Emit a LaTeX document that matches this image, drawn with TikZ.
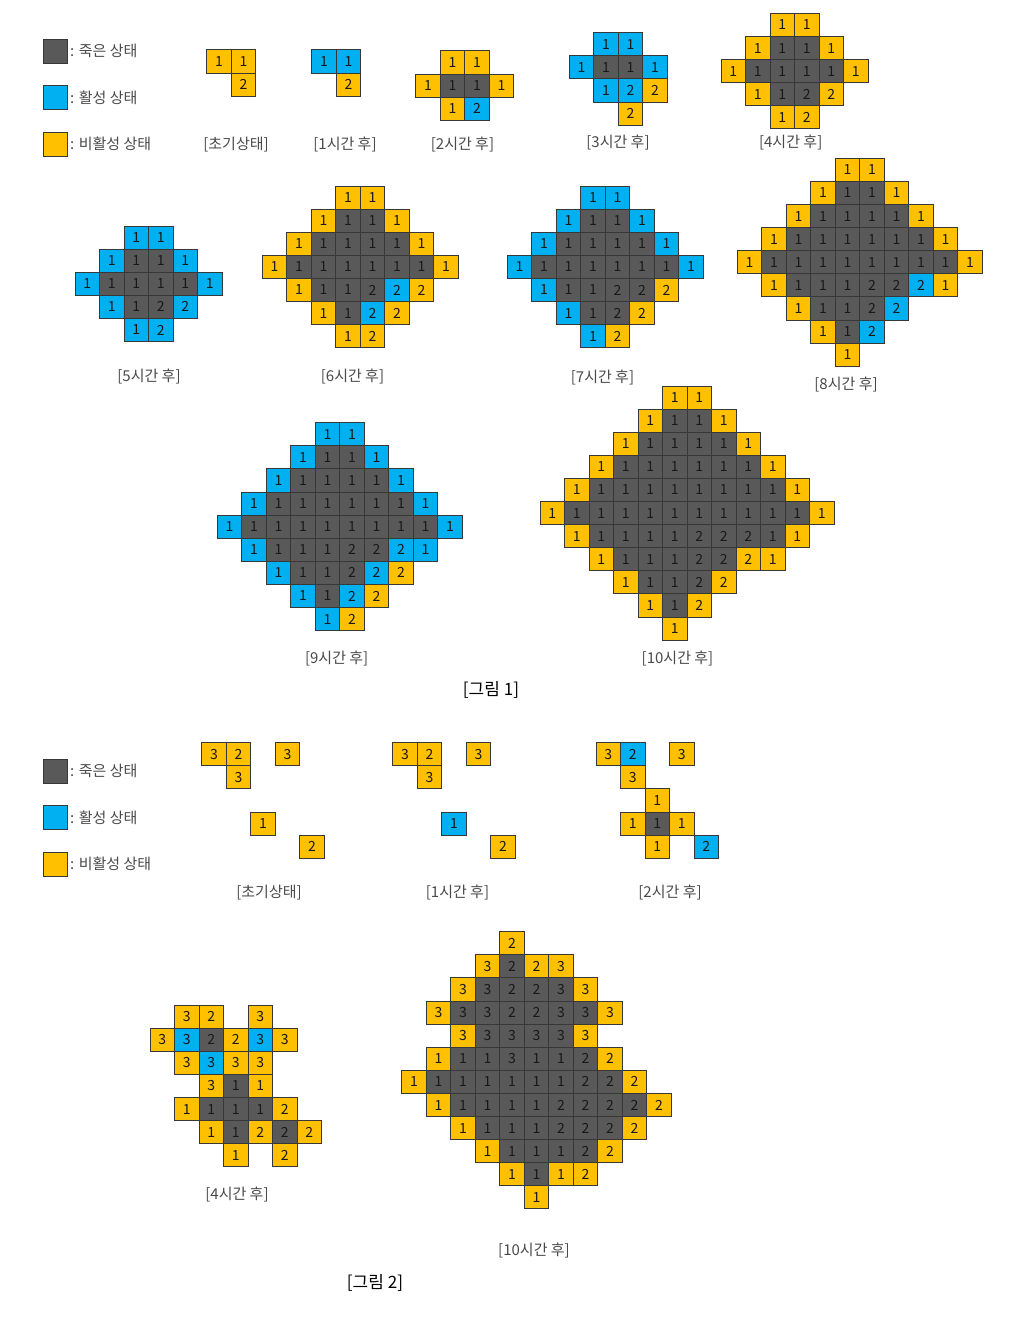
\documentclass[tikz,border=0pt]{standalone}
\usepackage{fontspec}
\setmainfont{Noto Sans CJK KR}
\usetikzlibrary{positioning}

\definecolor{cellY}{HTML}{FFC000}
\definecolor{cellB}{HTML}{00B0F0}
\definecolor{cellD}{HTML}{595959}
\definecolor{cellEdge}{HTML}{383838}
\definecolor{labGray}{HTML}{4A4A4A}

% Cell size (pt = px)
\def\cw{24.5}
\def\ch{23.1}

\tikzset{
  cell/.style={draw=cellEdge, line width=0.95pt, minimum width=\cw pt,
    minimum height=\ch pt, inner sep=0pt,
    font=\fontsize{14}{15}\selectfont, text=black!90},
  dead/.style={fill=cellD},
  actv/.style={fill=cellB},
  inac/.style={fill=cellY},
  gap/.style={},
  keytext/.style={font=\fontsize{15}{17}\selectfont, text=labGray, inner sep=0pt},
  steplabel/.style={font=\fontsize{15}{17}\selectfont, text=labGray, inner sep=1pt},
  figlabel/.style={font=\fontsize{17}{19}\selectfont, text=black, inner sep=1pt}
}

% One row of a grid: #1 row, #2 first column, #3 state/number list
\newcommand{\cellrow}[3]{%
  \foreach \s/\n [count=\i from #2] in {#3}{%
    \ifnum\n=0\relax\else
      \node[cell,\s] (\gname-#1-\i) at ({\gx+\i*\cw},{\gy+#1*\ch}) {\n};
    \fi}}

% Legend: #1 name, #2 y of first square
\newcommand{\keyblock}[2]{%
  \foreach \s/\t [count=\j from 0] in {dead/죽은 상태, actv/활성 상태, inac/비활성 상태}{%
    \node[cell,\s, minimum width=24pt, minimum height=24pt] (#1-\s) at (55.5,{#2+\j*46.5}) {};
    \node[keytext, right=2pt of #1-\s] (#1-\s-t) {: \t};
  }}

\begin{document}
\begin{tikzpicture}[x=1pt, y=-1pt]

% Page
\fill[white] (0,0) rectangle (1018,1317);
\useasboundingbox (0,0) rectangle (1018,1317);

%%% Figure 1

% Legend
\keyblock{keyA}{51}

% Initial state
\def\gname{a0}\def\gx{219}\def\gy{61.5}
\cellrow{0}{0}{inac/1,inac/1}
\cellrow{1}{1}{inac/2}

% After 1 hour
\def\gname{a1}\def\gx{324}\def\gy{61.5}
\cellrow{0}{0}{actv/1,actv/1}
\cellrow{1}{1}{inac/2}

% After 2 hours
\def\gname{a2}\def\gx{428}\def\gy{62.5}
\cellrow{0}{1}{inac/1,inac/1}
\cellrow{1}{0}{inac/1,dead/1,dead/1,inac/1}
\cellrow{2}{1}{inac/1,actv/2}

% After 3 hours
\def\gname{a3}\def\gx{581.5}\def\gy{44.3}
\cellrow{0}{1}{actv/1,actv/1}
\cellrow{1}{0}{actv/1,dead/1,dead/1,actv/1}
\cellrow{2}{1}{actv/1,actv/2,inac/2}
\cellrow{3}{2}{inac/2}

% After 4 hours
\def\gname{a4}\def\gx{733.3}\def\gy{25}
\cellrow{0}{2}{inac/1,inac/1}
\cellrow{1}{1}{inac/1,dead/1,dead/1,inac/1}
\cellrow{2}{0}{inac/1,dead/1,dead/1,dead/1,dead/1,inac/1}
\cellrow{3}{1}{inac/1,dead/1,dead/2,inac/2}
\cellrow{4}{2}{inac/1,inac/2}

% After 5 hours
\def\gname{a5}\def\gx{87.3}\def\gy{237.6}
\cellrow{0}{2}{actv/1,actv/1}
\cellrow{1}{1}{actv/1,dead/1,dead/1,actv/1}
\cellrow{2}{0}{actv/1,dead/1,dead/1,dead/1,dead/1,actv/1}
\cellrow{3}{1}{actv/1,dead/1,dead/2,actv/2}
\cellrow{4}{2}{actv/1,actv/2}

% After 6 hours
\def\gname{a6}\def\gx{274.5}\def\gy{197.6}
\cellrow{0}{3}{inac/1,inac/1}
\cellrow{1}{2}{inac/1,dead/1,dead/1,inac/1}
\cellrow{2}{1}{inac/1,dead/1,dead/1,dead/1,dead/1,inac/1}
\cellrow{3}{0}{inac/1,dead/1,dead/1,dead/1,dead/1,dead/1,dead/1,inac/1}
\cellrow{4}{1}{inac/1,dead/1,dead/1,dead/2,actv/2,inac/2}
\cellrow{5}{2}{inac/1,dead/1,actv/2,inac/2}
\cellrow{6}{3}{inac/1,inac/2}

% After 7 hours
\def\gname{a7}\def\gx{519.5}\def\gy{197.6}
\cellrow{0}{3}{actv/1,actv/1}
\cellrow{1}{2}{actv/1,dead/1,dead/1,actv/1}
\cellrow{2}{1}{actv/1,dead/1,dead/1,dead/1,dead/1,actv/1}
\cellrow{3}{0}{actv/1,dead/1,dead/1,dead/1,dead/1,dead/1,dead/1,actv/1}
\cellrow{4}{1}{actv/1,dead/1,dead/1,dead/2,dead/2,inac/2}
\cellrow{5}{2}{actv/1,dead/1,dead/2,inac/2}
\cellrow{6}{3}{actv/1,inac/2}

% After 8 hours
\def\gname{a8}\def\gx{749.5}\def\gy{169.9}
\cellrow{0}{4}{inac/1,inac/1}
\cellrow{1}{3}{inac/1,dead/1,dead/1,inac/1}
\cellrow{2}{2}{inac/1,dead/1,dead/1,dead/1,dead/1,inac/1}
\cellrow{3}{1}{inac/1,dead/1,dead/1,dead/1,dead/1,dead/1,dead/1,inac/1}
\cellrow{4}{0}{inac/1,dead/1,dead/1,dead/1,dead/1,dead/1,dead/1,dead/1,dead/1,inac/1}
\cellrow{5}{1}{inac/1,dead/1,dead/1,dead/1,dead/2,dead/2,actv/2,inac/1}
\cellrow{6}{2}{inac/1,dead/1,dead/1,dead/2,actv/2}
\cellrow{7}{3}{inac/1,dead/1,actv/2}
\cellrow{8}{4}{inac/1}

% After 9 hours
\def\gname{a9}\def\gx{229.5}\def\gy{434.3}
\cellrow{0}{4}{actv/1,actv/1}
\cellrow{1}{3}{actv/1,dead/1,dead/1,actv/1}
\cellrow{2}{2}{actv/1,dead/1,dead/1,dead/1,dead/1,actv/1}
\cellrow{3}{1}{actv/1,dead/1,dead/1,dead/1,dead/1,dead/1,dead/1,actv/1}
\cellrow{4}{0}{actv/1,dead/1,dead/1,dead/1,dead/1,dead/1,dead/1,dead/1,dead/1,actv/1}
\cellrow{5}{1}{actv/1,dead/1,dead/1,dead/1,dead/2,dead/2,actv/2,actv/1}
\cellrow{6}{2}{actv/1,dead/1,dead/1,dead/2,actv/2,inac/2}
\cellrow{7}{3}{actv/1,dead/1,actv/2,inac/2}
\cellrow{8}{4}{actv/1,inac/2}

% After 10 hours
\def\gname{a10}\def\gx{552.3}\def\gy{397.6}
\cellrow{0}{5}{inac/1,inac/1}
\cellrow{1}{4}{inac/1,dead/1,dead/1,inac/1}
\cellrow{2}{3}{inac/1,dead/1,dead/1,dead/1,dead/1,inac/1}
\cellrow{3}{2}{inac/1,dead/1,dead/1,dead/1,dead/1,dead/1,dead/1,inac/1}
\cellrow{4}{1}{inac/1,dead/1,dead/1,dead/1,dead/1,dead/1,dead/1,dead/1,dead/1,inac/1}
\cellrow{5}{0}{inac/1,dead/1,dead/1,dead/1,dead/1,dead/1,dead/1,dead/1,dead/1,dead/1,dead/1,inac/1}
\cellrow{6}{1}{inac/1,dead/1,dead/1,dead/1,dead/1,dead/2,dead/2,dead/2,dead/1,inac/1}
\cellrow{7}{2}{inac/1,dead/1,dead/1,dead/1,dead/2,dead/2,inac/2,inac/1}
\cellrow{8}{3}{inac/1,dead/1,dead/1,dead/2,inac/2}
\cellrow{9}{4}{inac/1,dead/1,inac/2}
\cellrow{10}{5}{inac/1}

% Step labels
\node[steplabel] (la0) at (236,145) {[초기상태]};
\node[steplabel] (la1) at (345,145) {[1시간 후]};
\node[steplabel] (la2) at (462.5,145) {[2시간 후]};
\node[steplabel] (la3) at (618,143) {[3시간 후]};
\node[steplabel] (la4) at (790.7,143) {[4시간 후]};
\node[steplabel] (la5) at (149,377) {[5시간 후]};
\node[steplabel] (la6) at (352.5,377) {[6시간 후]};
\node[steplabel] (la7) at (602.5,378) {[7시간 후]};
\node[steplabel] (la8) at (846,385) {[8시간 후]};
\node[steplabel] (la9) at (336.7,659) {[9시간 후]};
\node[steplabel] (la10) at (677.5,659) {[10시간 후]};
\node[figlabel] (figA) at (491,690) {[그림 1]};

%%% Figure 2

% Legend
\keyblock{keyB}{771}

% Initial state
\def\gname{b0}\def\gx{214}\def\gy{754.3}
\cellrow{0}{0}{inac/3,inac/2,gap/0,inac/3}
\cellrow{1}{1}{inac/3}
\cellrow{3}{2}{inac/1}
\cellrow{4}{4}{inac/2}

% After 1 hour
\def\gname{b1}\def\gx{405}\def\gy{754.3}
\cellrow{0}{0}{inac/3,inac/2,gap/0,inac/3}
\cellrow{1}{1}{inac/3}
\cellrow{3}{2}{actv/1}
\cellrow{4}{4}{inac/2}

% After 2 hours
\def\gname{b2}\def\gx{608.3}\def\gy{754.3}
\cellrow{0}{0}{inac/3,actv/2,gap/0,inac/3}
\cellrow{1}{1}{inac/3}
\cellrow{2}{2}{inac/1}
\cellrow{3}{1}{inac/1,dead/1,inac/1}
\cellrow{4}{2}{inac/1,gap/0,actv/2}

% After 4 hours
\def\gname{b4}\def\gx{162.3}\def\gy{1016.6}
\cellrow{0}{1}{inac/3,inac/2,gap/0,inac/3}
\cellrow{1}{0}{inac/3,actv/3,dead/2,inac/2,actv/3,inac/3}
\cellrow{2}{1}{inac/3,actv/3,inac/3,inac/3}
\cellrow{3}{2}{inac/3,dead/1,inac/1}
\cellrow{4}{1}{inac/1,dead/1,dead/1,dead/1,inac/2}
\cellrow{5}{2}{inac/1,dead/1,inac/2,dead/2,inac/2}
\cellrow{6}{3}{inac/1,gap/0,inac/2}

% After 10 hours
\def\gname{b10}\def\gx{414}\def\gy{943.3}
\cellrow{0}{4}{inac/2}
\cellrow{1}{3}{inac/3,dead/2,inac/2,inac/3}
\cellrow{2}{2}{inac/3,dead/3,dead/2,dead/2,dead/3,inac/3}
\cellrow{3}{1}{inac/3,dead/3,dead/3,dead/2,dead/2,dead/3,dead/3,inac/3}
\cellrow{4}{2}{inac/3,dead/3,dead/3,dead/3,dead/3,inac/3}
\cellrow{5}{1}{inac/1,dead/1,dead/1,dead/3,dead/1,dead/1,dead/2,inac/2}
\cellrow{6}{0}{inac/1,dead/1,dead/1,dead/1,dead/1,dead/1,dead/1,dead/2,dead/2,inac/2}
\cellrow{7}{1}{inac/1,dead/1,dead/1,dead/1,dead/1,dead/2,dead/2,dead/2,dead/2,inac/2}
\cellrow{8}{2}{inac/1,dead/1,dead/1,dead/1,dead/2,dead/2,dead/2,inac/2}
\cellrow{9}{3}{inac/1,dead/1,dead/1,dead/1,dead/2,inac/2}
\cellrow{10}{4}{inac/1,dead/1,inac/1,inac/2}
\cellrow{11}{5}{inac/1}

% Step labels
\node[steplabel] (lb0) at (269,893) {[초기상태]};
\node[steplabel] (lb1) at (457.5,893) {[1시간 후]};
\node[steplabel] (lb2) at (670,893) {[2시간 후]};
\node[steplabel] (lb4) at (237,1195) {[4시간 후]};
\node[steplabel] (lb10) at (534,1251) {[10시간 후]};
\node[figlabel] (figB) at (375,1283) {[그림 2]};

\end{tikzpicture}
\end{document}
